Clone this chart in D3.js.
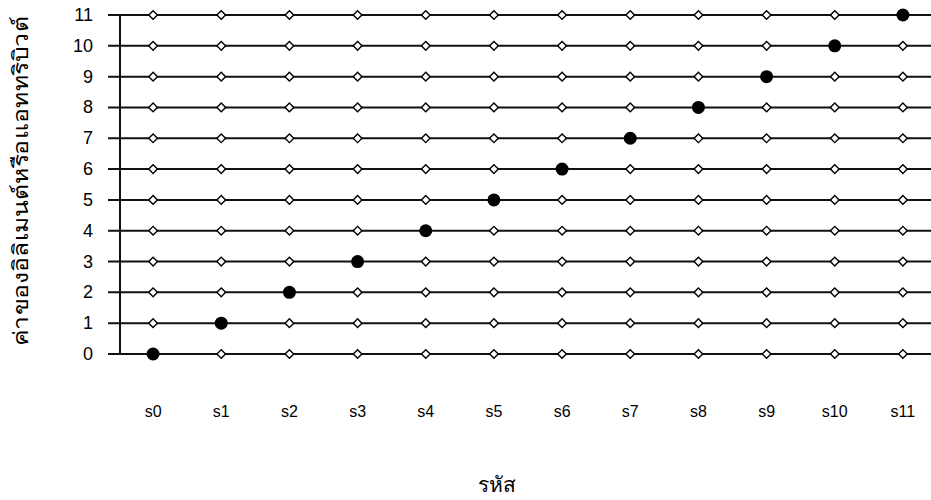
<!DOCTYPE html>
<html lang="th">
<head>
    <meta charset="UTF-8">
    <title>element values</title>
    <script src="https://d3js.org/d3.v7.min.js"></script>
    <style>
        body { margin: 0; background: #fff; }
        text { font-family: Arial, "Liberation Sans", sans-serif; fill: #000; }
    </style>
</head>
<body>
    <svg></svg>
    <script>
        const categories = ["s0", "s1", "s2", "s3", "s4", "s5", "s6", "s7", "s8", "s9", "s10", "s11"];
        const yTicks = [0, 1, 2, 3, 4, 5, 6, 7, 8, 9, 10, 11];
        const selected = [0, 1, 2, 3, 4, 5, 6, 7, 8, 9, 10, 11];
        const xTitle = "รหัส";
        const yTitle = "ค่าของอิลิเมนต์หรือแอททริบิวต์";

        const width = 931, height = 500;
        const svg = d3.select("svg").attr("width", width).attr("height", height);

        const x = d3.scaleBand().domain(categories).range([119, 937]);
        const y = d3.scaleLinear().domain([0, 11]).range([354, 15]);

        // horizontal lines per value
        svg.append("g").selectAll("line")
            .data(yTicks).enter().append("line")
            .attr("x1", 108).attr("x2", width)
            .attr("y1", d => y(d)).attr("y2", d => y(d))
            .attr("stroke", "#111").attr("stroke-width", 2);

        // y axis
        svg.append("line")
            .attr("x1", 120).attr("x2", 120)
            .attr("y1", y(11)).attr("y2", y(0))
            .attr("stroke", "#111").attr("stroke-width", 2);

        svg.append("g").selectAll("text")
            .data(yTicks).enter().append("text")
            .attr("x", 93).attr("y", d => y(d) + 6)
            .attr("text-anchor", "end")
            .attr("font-size", 18)
            .text(d => d);

        svg.append("g").selectAll("text")
            .data(categories).enter().append("text")
            .attr("x", d => x(d) + x.bandwidth() / 2)
            .attr("y", 417)
            .attr("text-anchor", "middle")
            .attr("font-size", 16)
            .text(d => d);

        // markers
        const pts = [];
        categories.forEach((c, i) => yTicks.forEach(v => pts.push({c, v, on: selected[i] === v})));

        svg.append("g").selectAll("path")
            .data(pts.filter(p => !p.on)).enter().append("path")
            .attr("d", d3.symbol().type(d3.symbolSquare).size(38))
            .attr("transform", d => `translate(${x(d.c) + x.bandwidth() / 2},${y(d.v)}) rotate(45)`)
            .attr("fill", "#fff").attr("stroke", "#000").attr("stroke-width", 1.4);

        svg.append("g").selectAll("circle")
            .data(pts.filter(p => p.on)).enter().append("circle")
            .attr("cx", d => x(d.c) + x.bandwidth() / 2)
            .attr("cy", d => y(d.v))
            .attr("r", 6.5)
            .attr("fill", "#000");

        svg.append("text")
            .attr("x", 497).attr("y", 492)
            .attr("text-anchor", "middle")
            .attr("font-size", 21)
            .text(xTitle);

        svg.append("text")
            .attr("transform", "translate(28,181) rotate(-90)")
            .attr("text-anchor", "middle")
            .attr("font-size", 21)
            .attr("textLength", 330)
            .attr("lengthAdjust", "spacingAndGlyphs")
            .text(yTitle);
    </script>
</body>
</html>
